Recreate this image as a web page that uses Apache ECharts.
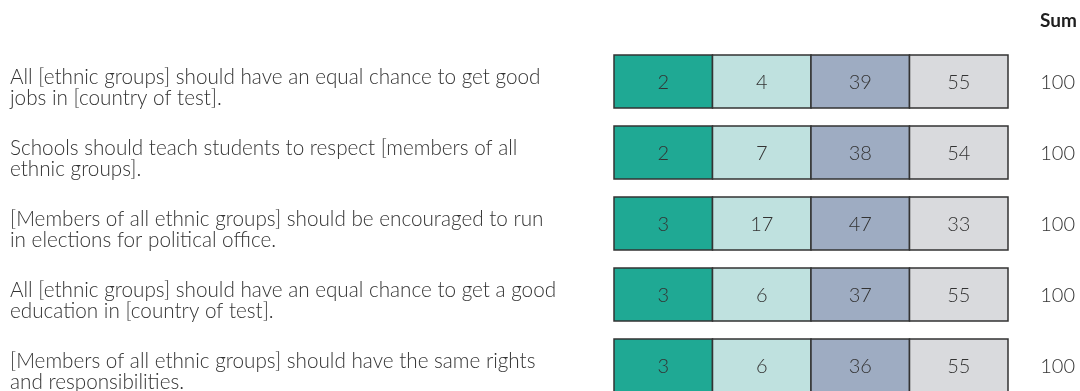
<!DOCTYPE html>
<html>
<head>
<meta charset="utf-8">
<script src="https://cdn.jsdelivr.net/npm/echarts@6/dist/echarts.min.js"></script>
<style>
  html, body { margin: 0; padding: 0; background: #ffffff; }
  #chart { width: 1080px; height: 391px; }
</style>
</head>
<body>
<div id="chart"></div>
<script>
// Survey statements (one row each)
const statements = [
  'All [ethnic groups] should have an equal chance to get good\njobs in [country of test].',
  'Schools should teach students to respect [members of all\nethnic groups].',
  '[Members of all ethnic groups] should be encouraged to run\nin elections for political office.',
  'All [ethnic groups] should have an equal chance to get a good\neducation in [country of test].',
  '[Members of all ethnic groups] should have the same rights\nand responsibilities.'
];

// Response levels (columns)
const responseLevels = ['Strongly disagree', 'Disagree', 'Agree', 'Strongly agree'];

// Percentages per response level, one entry per statement
const stronglyDisagree = [2, 2, 3, 3, 3];
const disagree = [4, 7, 17, 6, 6];
const agree = [39, 38, 47, 37, 36];
const stronglyAgree = [55, 54, 33, 55, 55];

// Row totals shown in the Sum column
const sums = [100, 100, 100, 100, 100];

const levelColors = ['#1fa994', '#bfe1df', '#9eacc2', '#d9dadd'];
const textColor = '#333333';
const fontFamily = 'Lato, "Open Sans", sans-serif';

const columns = [stronglyDisagree, disagree, agree, stronglyAgree];
const cells = [];
columns.forEach((col, c) => {
  col.forEach((v, r) => cells.push([c, r, v]));
});
const rowItems = statements.map((s, r) => [r, s, sums[r]]);

// Row pitch in pixels; the last row runs off the bottom edge
const ROW_PITCH = 71;
const GRID_TOP = 46;
const GRID_HEIGHT = 391 - GRID_TOP;

const chart = echarts.init(document.getElementById('chart'), null, { renderer: 'canvas' });

chart.setOption({
  animation: false,
  backgroundColor: '#ffffff',
  grid: { left: 614, right: 72, top: GRID_TOP, bottom: 0, containLabel: false },
  xAxis: {
    type: 'category',
    data: responseLevels,
    show: false
  },
  yAxis: {
    type: 'value',
    inverse: true,
    min: -0.5,
    max: -0.5 + GRID_HEIGHT / ROW_PITCH,
    show: false
  },
  graphic: [
    {
      type: 'text',
      right: 3,
      top: 11,
      style: {
        text: 'Sum',
        fill: '#1e1e1e',
        font: 'bold 19px ' + fontFamily
      }
    }
  ],
  series: [
    {
      // Response cells
      type: 'custom',
      data: cells,
      encode: { x: 0, y: 1 },
      renderItem: function (params, api) {
        const col = api.value(0);
        const center = api.coord([col, api.value(1)]);
        const size = api.size([1, 1]);
        const w = size[0];
        const h = size[1] * 0.746;
        return {
          type: 'group',
          children: [
            {
              type: 'rect',
              shape: { x: center[0] - w / 2, y: center[1] - h / 2, width: w, height: h },
              style: { fill: levelColors[col], stroke: '#333333', lineWidth: 1.5 }
            },
            {
              type: 'text',
              style: {
                text: String(api.value(2)),
                x: center[0],
                y: center[1] + 1,
                align: 'center',
                verticalAlign: 'middle',
                fill: textColor,
                font: '300 20px ' + fontFamily
              }
            }
          ]
        };
      }
    },
    {
      // Statement text on the left and row sums on the right
      type: 'custom',
      data: rowItems,
      encode: { y: 0 },
      renderItem: function (params, api) {
        const r = api.value(0);
        const y = api.coord([0, r])[1];
        const cellRight = api.coord([3, r])[0] + api.size([1, 1])[0] / 2;
        return {
          type: 'group',
          children: [
            {
              type: 'text',
              style: {
                text: statements[r],
                x: 10,
                y: y + 6,
                align: 'left',
                verticalAlign: 'middle',
                lineHeight: 21,
                fill: textColor,
                font: '300 20.7px ' + fontFamily
              }
            },
            {
              type: 'text',
              style: {
                text: String(sums[r]),
                x: cellRight + 67,
                y: y + 1,
                align: 'right',
                verticalAlign: 'middle',
                fill: textColor,
                font: '300 20px ' + fontFamily
              }
            }
          ]
        };
      }
    }
  ]
});
</script>
</body>
</html>
